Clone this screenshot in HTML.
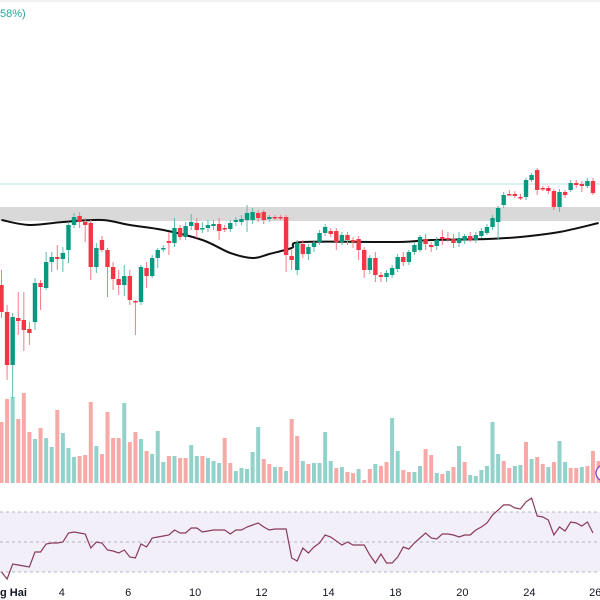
<!DOCTYPE html>
<html><head><meta charset="utf-8"><style>
html,body{margin:0;padding:0;background:#fff;width:600px;height:600px;overflow:hidden;font-family:"Liberation Sans",sans-serif}
svg{display:block}
</style></head><body>
<svg id="chart" width="600" height="600" xmlns="http://www.w3.org/2000/svg">
<line x1="0" y1="1" x2="600" y2="1" stroke="#e6e6e6"/>
<text x="0" y="17" font-size="11" fill="#26a69a">58%)</text>
<line x1="0" y1="184" x2="600" y2="184" stroke="#b7e2e0" stroke-width="1"/>
<rect x="0" y="207" width="600" height="14" fill="#d9d9d9"/>
<g id="vol"></g>
<g id="ma"></g>
<g id="candles"></g>
<g>
<rect x="0" y="512" width="600" height="60" fill="#f2eff9"/>
<line x1="0" y1="512" x2="600" y2="512" stroke="#b5b5c8" stroke-dasharray="3,3"/>
<line x1="0" y1="542" x2="600" y2="542" stroke="#b5b5c8" stroke-dasharray="3,3"/>
<line x1="0" y1="572" x2="600" y2="572" stroke="#b5b5c8" stroke-dasharray="3,3"/>
<g id="rsi"></g>
</g>
<circle cx="604" cy="473" r="8" fill="#fff" stroke="#7e57c2" stroke-width="1.5"/>
<g id="xaxis"></g>
</svg>
<script>
const candles = [
[115,130,82,88],[88,95,20,35],[35,87,2,83],[82,108,65,79],[80,108,49,70],[71,78,55,67],[78,122,70,117],[117,120,90,113],[112,148,110,138],[138,148,128,143],
[143,155,130,141],[141,153,128,147],[150,178,137,175],[175,187,172,183],[184,188,172,178],[178,182,158,175],[177,180,120,133],[133,157,127,152],[160,164,148,150],[150,152,103,133],
[133,138,110,121],[121,130,105,115],[115,135,104,124],[124,130,95,100],[99,100,65,98],[98,135,95,133],[132,138,112,124],[124,145,122,142],[142,152,132,150],[151,155,148,152],
[159,168,145,157],[157,182,153,172],[172,175,160,163],[163,178,160,174],[174,186,170,178],[177,182,162,170],[171,178,167,172],[172,180,168,175],[174,180,170,176],[176,182,160,169],
[172,175,168,171],[171,180,168,177],[178,183,174,180],[178,185,175,181],[180,195,168,187],[180,192,176,188],[187,190,178,182],[188,190,176,180],[181,185,178,183],[183,185,180,182],
[183,185,180,182],[183,185,128,145],[144,150,130,140],[130,160,125,157],[156,160,142,146],[146,156,140,153],[153,160,148,157],[158,170,155,167],[167,176,164,173],[169,172,163,166],
[169,172,150,158],[158,168,155,165],[165,168,155,160],[160,163,152,158],[161,164,140,150],[150,153,122,130],[130,145,126,142],[142,148,118,125],[125,128,118,123],[123,130,118,127],
[125,135,122,132],[131,146,128,143],[143,148,134,138],[138,150,135,148],[148,158,145,155],[150,165,148,163],[161,166,150,156],[155,158,148,153],[154,163,150,160],[163,170,155,161],
[162,168,158,161],[161,166,152,157],[157,168,153,162],[160,166,156,164],[164,168,158,160],[160,168,157,165],[164,172,162,169],[167,176,165,173],[173,185,170,182],[178,194,160,192],
[195,208,192,205],[206,210,204,205],[206,209,202,204],[203,206,200,202],[203,222,200,220],[220,227,218,225],[230,232,205,210],[212,214,209,211],[212,214,206,209],[209,211,190,193],
[193,211,188,208],[208,210,202,205],[210,220,208,217],[217,220,212,215],[216,219,208,214],[214,222,212,219],[219,222,205,207]
];
const volumes = [61,84,86,64,90,51,44,55,45,36,73,50,35,26,27,28,81,37,29,71,45,45,80,41,51,44,32,29,52,21,27,27,25,25,38,27,27,25,22,20,45,20,12,15,14,31,56,24,19,16,16,12,64,47,22,19,20,20,51,22,15,16,11,10,14,3,14,19,17,21,65,32,13,11,11,17,34,28,10,9,12,16,37,21,8,7,13,17,61,29,22,15,17,18,41,24,26,19,16,21,42,21,15,15,16,17,32,22];
const volDir = "rrgrrrgrggrgggrrrgrrrrgrrgrgggrgrrggrgggrrgggggrrgrgrrgrggggrgrrgrrgrrggrrggrrgrgrgrggggggrrggrgrrgrggrrgr".split("");
const maIdx = [0,5,11,18,23,29,36,41,45,48,52,54,71,77,87,93,100,107];
const maVal = [180,175,178,180,175,170,160,147,142,146,152,158,158,160,161,163,168,177];
const rsi = [30,25.3,35.3,34.7,34,33.3,43.3,43.3,48.7,49.3,49.3,50,56,56.7,56,55.3,46,50,49.3,44.7,44,42.7,44.7,40,39.3,48.7,46.7,52.7,53.3,54,54.7,58,56,56,59.3,59.3,56.7,57.3,58,58,58,55.3,58,58,60,61.3,62.7,60,58,58.7,58.7,58.7,39.3,37.3,46,42.7,46.7,49.3,54.7,53.3,50.7,48,50,48,48,48,41.3,36,42,36,36,40,46.7,45.3,49.3,52.7,56,52.7,52,55.3,55.3,54.7,53.3,54.7,54.7,58,60,62.7,68,71.3,74.7,74.7,72.7,72,76.7,79.3,67.3,66.7,64.7,54.7,60,57.3,63.3,62.7,60.7,63.3,56];
const tickLabels = ["g Hai","4","6","10","12","14","18","20","24","26"];
const tickIdx = [1.5,10.8,22.7,34.7,46.6,58.6,70.6,82.6,94.6,106.4];

const NS="http://www.w3.org/2000/svg";
function xS(i){return 1.5+i*5.58;}
function yP(p){return 400-p;}
function yV(v){return 483-v;}
function yR(r){return 542-(r-50)*1.5;}
function mk(tag,attrs,parent){const e=document.createElementNS(NS,tag);for(const k in attrs)e.setAttribute(k,attrs[k]);parent.appendChild(e);return e;}

const gV=document.getElementById('vol');
volumes.forEach((v,i)=>{
  const r=mk('rect',{x:xS(i)-2,y:yV(v),width:4,height:v,fill:volDir[i]==='g'?'#92d2cb':'#f7a9a7'},gV);
  
  
});

const gM=document.getElementById('ma');
const pts=maIdx.map((ix,k)=>[xS(ix),yP(maVal[k])]);
let d='M'+pts[0][0].toFixed(1)+','+pts[0][1].toFixed(1);
for(let k=0;k<pts.length-1;k++){
  const p0=pts[Math.max(0,k-1)],p1=pts[k],p2=pts[k+1],p3=pts[Math.min(pts.length-1,k+2)];
  const c1=[p1[0]+(p2[0]-p0[0])/6,p1[1]+(p2[1]-p0[1])/6];
  const c2=[p2[0]-(p3[0]-p1[0])/6,p2[1]-(p3[1]-p1[1])/6];
  d+='C'+c1[0].toFixed(1)+','+c1[1].toFixed(1)+' '+c2[0].toFixed(1)+','+c2[1].toFixed(1)+' '+p2[0].toFixed(1)+','+p2[1].toFixed(1);
}
const mp=mk('path',{d:d,fill:'none',stroke:'#111','stroke-width':2,'stroke-linejoin':'round'},gM);



const gC=document.getElementById('candles');
candles.forEach((c,i)=>{
  const [o,h,l,cl]=c;const up=cl>=o;const col=up?'#089981':'#f23645';
  const g=mk('g',{},gC);
  
  
  mk('line',{x1:xS(i),x2:xS(i),y1:yP(h),y2:yP(l),stroke:up?'#5cbcaf':'#f47a84','stroke-width':1},g);
  const top=yP(Math.max(o,cl)),bh=Math.max(1.5,Math.abs(o-cl));
  mk('rect',{x:xS(i)-2.2,y:top,width:4.4,height:bh,fill:col},g);
});

const gR=document.getElementById('rsi');
let rd='';rsi.forEach((r,i)=>{rd+=(i?'L':'M')+xS(i).toFixed(1)+','+yR(r).toFixed(1);});
const rp=mk('path',{d:rd,fill:'none',stroke:'#8a3a5c','stroke-width':1.2},gR);



const gX=document.getElementById('xaxis');
tickLabels.forEach((t,k)=>{
  const tx=mk('text',{x:k===0?0:xS(tickIdx[k]),y:596,'font-size':11,'font-weight':k===0?'bold':'normal',fill:'#131722','text-anchor':k===0?'start':'middle'},gX);
  tx.textContent=t;
  
  
});
</script>
</body></html>
